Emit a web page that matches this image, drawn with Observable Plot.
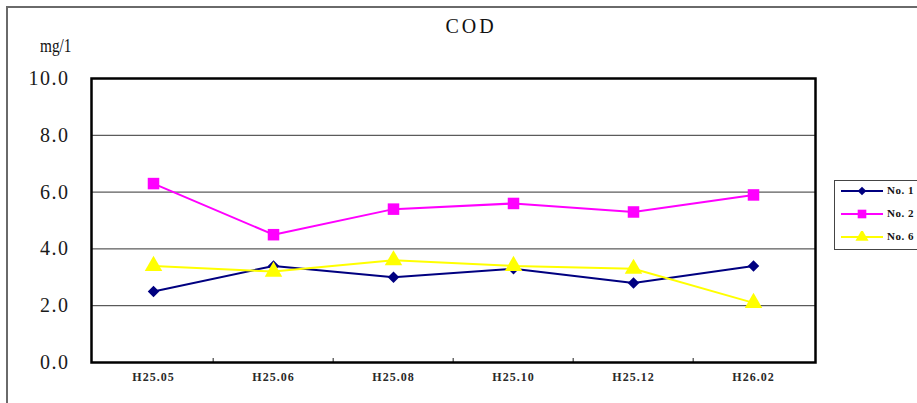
<!DOCTYPE html>
<html>
<head>
<meta charset="utf-8">
<script src="https://cdn.jsdelivr.net/npm/d3@7"></script>
<script src="https://cdn.jsdelivr.net/npm/@observablehq/plot@0.6"></script>
<style>
  html, body { margin: 0; padding: 0; background: #fff; }
  #wrap { position: relative; width: 917px; height: 403px; overflow: hidden; }
  #frame { position: absolute; left: 6px; top: 6px; width: 1000px; height: 500px;
           border-top: 2px solid #6a6a6a; border-left: 2px solid #6a6a6a; pointer-events: none; }
  #title { position: absolute; left: 0; top: 15px; width: 942px; text-align: center;
           font-family: "Liberation Serif", "DejaVu Serif", serif; font-size: 20px; letter-spacing: 3px; color: #111; }
  #unit { position: absolute; left: 40px; top: 36px; font-family: "Liberation Serif", serif; font-size: 18px; color: #111; transform: scaleX(0.85); transform-origin: left; }
  #legend { position: absolute; left: 834px; top: 180px; width: 100px; height: 68px;
            border: 1.5px solid #444; background: #fff; }
  .item { position: absolute; left: 0; height: 12px; }
  .item svg { position: absolute; left: 6px; top: 0; }
  .item span { position: absolute; left: 52px; top: -1px; font-family: "Liberation Serif", serif; font-weight: bold; font-size: 11px; letter-spacing: 0.5px; color: #111; white-space: nowrap; }
  g[aria-label="y-axis tick label"] text { letter-spacing: 1.5px; }
  g[aria-label="x-axis tick label"] text { letter-spacing: 1px; }
</style>
</head>
<body>
<div id="wrap">
  <div id="chart"></div>
  <div id="frame"></div>
  <div id="title">COD</div>
  <div id="unit">mg/1</div>
  <div id="legend"></div>
</div>
<script>
const categories = ["H25.05", "H25.06", "H25.08", "H25.10", "H25.12", "H26.02"];
const no1 = [2.5, 3.4, 3.0, 3.3, 2.8, 3.4];
const no2 = [6.3, 4.5, 5.4, 5.6, 5.3, 5.9];
const no6 = [3.4, 3.2, 3.6, 3.4, 3.3, 2.1];
const seriesNames = ["No.1", "No.2", "No.6"];
const yTicks = [0, 2, 4, 6, 8, 10];
const gridTicks = [2, 4, 6, 8];

const colors = {"No.1": "#000080", "No.2": "#ff00ff", "No.6": "#ffff00"};
const symbols = {"No.1": "diamond2", "No.2": "square", "No.6": "triangle"};
const radii = {"No.1": 5.2, "No.2": 6.5, "No.6": 6.5};

const seriesValues = [no1, no2, no6];
const data = [];
seriesNames.forEach((s, si) => categories.forEach((c, i) => data.push({series: s, cat: c, value: seriesValues[si][i]})));

const W = 917, H = 403, mL = 91, mR = 102, mT = 78, mB = 41;
const step = (W - mL - mR) / categories.length;

const marks = [
  Plot.ruleY(gridTicks, {stroke: "#333", strokeWidth: 1}),
  Plot.axisY({ticks: yTicks, tickSize: 0, tickPadding: 22, tickFormat: d => d.toFixed(1),
    fontSize: 20, fill: "#1a1a1a", label: null}),
  Plot.axisX({tickSize: 0, tickPadding: 10, fontSize: 12, fontWeight: "bold", fill: "#2a2a2a", label: null}),
  Plot.axisX({ticks: categories.slice(1), tickSize: -4, text: null, dx: -step / 2, stroke: "#222", label: null}),
];
for (const s of seriesNames) {
  const d = data.filter(r => r.series === s);
  marks.push(Plot.line(d, {x: "cat", y: "value", stroke: colors[s], strokeWidth: 2}));
  marks.push(Plot.dot(d, {x: "cat", y: "value", fill: colors[s], stroke: "none", symbol: () => symbols[s], r: radii[s]}));
}
marks.push(Plot.frame({stroke: "#000", strokeWidth: 2.5}));

const chart = Plot.plot({
  width: W, height: H,
  marginLeft: mL, marginRight: mR, marginTop: mT, marginBottom: mB,
  style: {fontFamily: "'Liberation Serif', 'DejaVu Serif', serif", background: "transparent", overflow: "visible"},
  x: {type: "point", domain: categories, padding: 0.5},
  y: {domain: [0, 10]},
  symbol: {type: "identity"},
  marks
});
document.getElementById("chart").appendChild(chart);

// legend
const legend = document.getElementById("legend");
seriesNames.forEach((s, i) => {
  const item = document.createElement("div");
  item.className = "item";
  item.style.top = (4 + i * 23) + "px";
  const sym = d3.symbol().type(symbols[s] === "diamond2" ? d3.symbolDiamond2 : symbols[s] === "square" ? d3.symbolSquare : d3.symbolTriangle)
    .size(Math.PI * (radii[s] * 0.75) ** 2)();
  item.innerHTML = `<svg width="44" height="12"><line x1="0" x2="42" y1="6" y2="6" stroke="${colors[s]}" stroke-width="2"/>` +
    `<path d="${sym}" transform="translate(21,6)" fill="${colors[s]}"/></svg><span>${s.replace(".", ". ")}</span>`;
  legend.appendChild(item);
});
</script>
</body>
</html>
